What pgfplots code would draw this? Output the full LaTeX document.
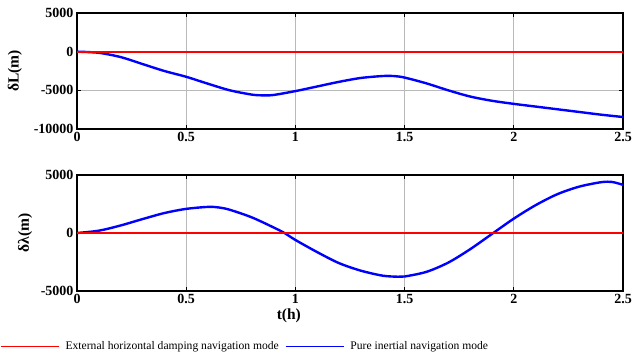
\documentclass[border=0pt]{standalone}
\usepackage{pgfplots}
\pgfplotsset{compat=1.18}
\usepackage{fontspec}
\setmainfont{Liberation Serif}
\begin{document}
\begin{tikzpicture}
\useasboundingbox (0pt,0pt) rectangle (633pt,359pt);
\pgfplotsset{
  every axis/.append style={
    scale only axis, width=546pt, height=116pt,
    xmin=0, xmax=2.5,
    xtick={0,0.5,1,1.5,2,2.5},
    axis line style={line width=1.1pt},
    tick align=inside, major tick length=4pt,
    tick style={black, line width=0.8pt},
    grid=major, major grid style={gray!55, line width=0.7pt},
    ticklabel style={font=\bfseries\fontsize{14}{14}\selectfont},
    label style={font=\bfseries\fontsize{15.5}{15.5}\selectfont},
    /pgf/number format/assume math mode=true,
    /pgf/number format/1000 sep={},
    scaled y ticks=false,
  }
}
\begin{axis}[at={(77pt,230pt)}, anchor=south west,
  ymin=-10000, ymax=5000, ytick={-10000,-5000,0,5000},
  ylabel={δL(m)}, ylabel style={at={(axis description cs:-0.1136,0.5)}, anchor=center}]
\addplot[blue, line width=2.4pt, smooth, forget plot] coordinates {
(0,0) (0.1,-150) (0.2,-700) (0.3,-1600) (0.4,-2500) (0.5,-3250) (0.6,-4150) (0.7,-5000) (0.8,-5550) (0.85,-5650) (0.9,-5600) (1.0,-5100) (1.1,-4500) (1.2,-3900) (1.3,-3400) (1.4,-3150) (1.45,-3150) (1.5,-3350) (1.6,-4100) (1.7,-5000) (1.8,-5800) (1.9,-6350) (2.0,-6750) (2.1,-7100) (2.2,-7450) (2.3,-7800) (2.4,-8150) (2.5,-8450)};
\addplot[color=red, line width=1.8pt, forget plot] coordinates {(0,0) (2.5,0)};
\end{axis}
\begin{axis}[at={(77pt,68pt)}, anchor=south west,
  ymin=-5000, ymax=5000, ytick={-5000,0,5000},
  ylabel={δλ(m)}, ylabel style={at={(axis description cs:-0.0952,0.5)}, anchor=center},
  xlabel={t(h)}, xlabel style={at={(axis description cs:0.388,-0.214)}, anchor=center},
  legend columns=2,
  legend style={draw=none, fill=none, inner sep=0pt, outer sep=0pt,
    at={(axis description cs:-0.141,-0.479)}, anchor=west,
    font=\fontsize{11.6}{11.6}\selectfont, column sep=4pt,
    nodes={inner sep=2pt}},
  legend image code/.code={\draw[#1] (0pt,0pt) -- (58pt,0pt);}]
\addlegendimage{red, line width=1.6pt}
\addlegendentry{External horizontal damping navigation mode}
\addlegendimage{blue, line width=1.6pt}
\addlegendentry{Pure inertial navigation mode}
\addplot[blue, line width=2.4pt, smooth, forget plot] coordinates {
(0,0) (0.1,200) (0.2,650) (0.3,1200) (0.4,1720) (0.5,2080) (0.6,2250) (0.65,2200) (0.7,2000) (0.8,1350) (0.9,480) (0.95,0) (1.0,-600) (1.1,-1650) (1.2,-2600) (1.3,-3250) (1.4,-3680) (1.47,-3770) (1.5,-3750) (1.6,-3350) (1.7,-2550) (1.8,-1400) (1.9,-80) (2.0,1240) (2.1,2400) (2.2,3350) (2.3,4000) (2.4,4380) (2.45,4400) (2.5,4150)};
\addplot[color=red, line width=1.8pt, forget plot] coordinates {(0,0) (2.5,0)};
\end{axis}
\end{tikzpicture}
\end{document}
